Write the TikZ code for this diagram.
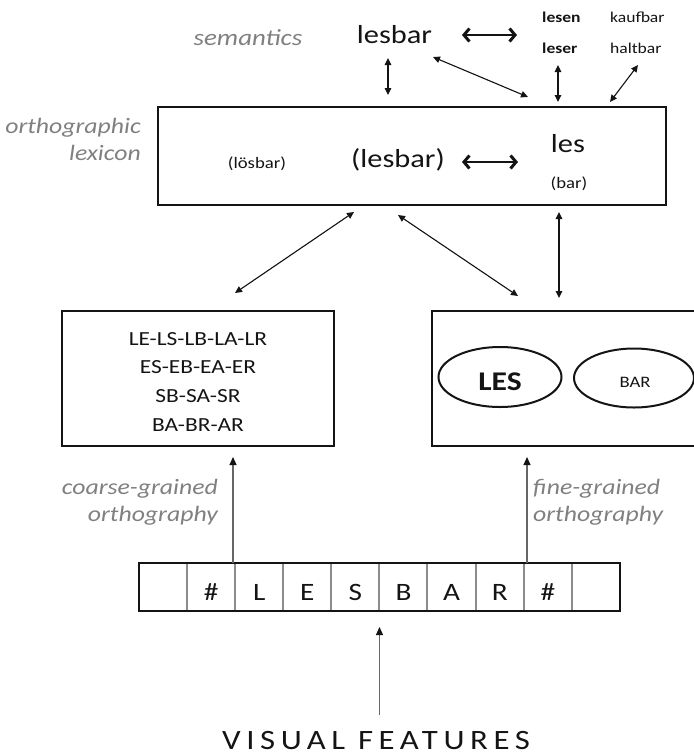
\documentclass[tikz,border=0pt]{standalone}
\usepackage{fontspec}
\setmainfont{Carlito}[FakeStretch=1.17]
\newfontfamily\vfont{Carlito}[FakeStretch=1.17,LetterSpace=20]
\usetikzlibrary{arrows.meta,shapes.geometric}
\definecolor{lblgray}{RGB}{128,128,128}
\definecolor{ink}{RGB}{20,20,20}
\definecolor{cellgray}{RGB}{140,140,140}
\newcommand{\fsz}[1]{\fontsize{#1pt}{#1pt}\selectfont}
\begin{document}
\begin{tikzpicture}[x=1pt,y=-1pt,
  txt/.style={inner sep=0pt, text=ink},
  lbl/.style={inner sep=0pt, text=lblgray, font=\fsz{22}\itshape},
  boxline/.style={draw=ink, line width=2.2pt},
  dbl/.style={{Triangle[length=7pt,width=6.5pt]}-{Triangle[length=7pt,width=6.5pt]}, line width=1.1pt, draw=ink, fill=ink},
  chev/.style={{Straight Barb[length=5.5pt,width=13pt,line width=3pt]}-{Straight Barb[length=5.5pt,width=13pt,line width=3pt]}, line width=1.2pt, draw=ink},
  uparr/.style={-{Triangle[length=8pt,width=7pt,color=ink]}, line width=1.1pt, draw=black!60},
  cell/.style={minimum width=48.1pt, minimum height=48pt, inner sep=0pt},
  ell/.style={ellipse, draw=ink, line width=2pt, inner sep=0pt}
]
\useasboundingbox (0,0) rectangle (694,756);

% semantics layer
\node[lbl, font=\fsz{23}\itshape, anchor=base] (sem) at (248,45) {semantics};
\node[txt, font=\fsz{26}, anchor=base] (lesbarA) at (394.5,43) {lesbar};
\node[txt, font=\fsz{15}\bfseries, anchor=base west] (lesen) at (542,22) {lesen};
\node[txt, font=\fsz{15}, anchor=base west] (kaufbar) at (610,22) {kaufbar};
\node[txt, font=\fsz{15}\bfseries, anchor=base west] (leser) at (542,53) {leser};
\node[txt, font=\fsz{15}, anchor=base west] (haltbar) at (610,53) {haltbar};

% orthographic lexicon
\node[minimum width=508pt, minimum height=98pt, inner sep=0pt, boxline] (lex) at (412,156) {};
\node[lbl, anchor=base east] (orth1) at (141,133) {orthographic};
\node[lbl, anchor=base east] (orth2) at (141,160) {lexicon};
\node[txt, font=\fsz{16}, anchor=base] (losbar) at (257,168) {(lösbar)};
\node[txt, font=\fsz{26}, anchor=base] (lesbarB) at (398,167) {(lesbar)};
\node[txt, font=\fsz{26}, anchor=base] (les) at (568,152) {les};
\node[txt, font=\fsz{16}, anchor=base] (bar) at (569,188) {(bar)};

% coarse-grained box
\node[minimum width=272pt, minimum height=135pt, inner sep=0pt, draw=ink, line width=2pt] (cg) at (198,378.5) {};
\node[txt, font=\fsz{20}, anchor=base] (cg1) at (198,345) {LE-LS-LB-LA-LR};
\node[txt, font=\fsz{20}, anchor=base] (cg2) at (198,373) {ES-EB-EA-ER};
\node[txt, font=\fsz{20}, anchor=base] (cg3) at (198,402) {SB-SA-SR};
\node[txt, font=\fsz{20}, anchor=base] (cg4) at (198,431) {BA-BR-AR};

% fine-grained box (cut at right edge)
\node[minimum width=262pt, minimum height=135pt, inner sep=0pt, anchor=north west] (fg) at (432,311) {};
\draw[draw=ink, line width=2pt] (fg.north east) -- (fg.north west) -- (fg.south west) -- (fg.south east);
\node[ell, minimum width=123pt, minimum height=60pt] (LES) at (500,377) {};
\node[txt, font=\fsz{27}\bfseries, anchor=base] (LEStxt) at (500,390) {LES};
\node[ell, minimum width=120pt, minimum height=59pt] (BAR) at (634,378) {};
\node[txt, font=\fsz{16}, anchor=base] (BARtxt) at (635,387) {BAR};

% labels of the two routes
\node[lbl, anchor=base east] (coarse1) at (218,494) {coarse-grained};
\node[lbl, anchor=base east] (coarse2) at (218,521) {orthography};
\node[lbl, anchor=base west] (fine1) at (533,494) {fine-grained};
\node[lbl, anchor=base west] (fine2) at (533,521) {orthography};

% letter row
\foreach \i/\t in {1/{},2/\#,3/L,4/E,5/S,6/B,7/A,8/R,9/\#,10/{}} {
  \node[cell] (c\i) at ({139+48.1*(\i-0.5)},587) {};
  \node[txt, font=\fsz{25}, anchor=base] (t\i) at ({139+48.1*(\i-0.5)},600) {\t};
}
\foreach \i in {2,...,10} \draw[draw=cellgray, line width=2pt] (c\i.north west) -- (c\i.south west);
\draw[draw=ink, line width=2.5pt] (c1.north west) rectangle (c10.south east);

\node[txt, font=\vfont\fsz{28}, anchor=base west] (vf) at (222,749) {VISUAL FEATURES};

% coordinates for connectors
\coordinate (sl) at (462,35); \coordinate (sr) at (517,35);
\coordinate (ll) at (462,162); \coordinate (lr) at (518,162);
\coordinate (v1a) at (388,58); \coordinate (v1b) at (388,95);
\coordinate (d1a) at (433,57); \coordinate (d1b) at (528,97);
\coordinate (v2a) at (558,65); \coordinate (v2b) at (558,102);
\coordinate (d2a) at (638,65); \coordinate (d2b) at (610,102);
\coordinate (aA) at (354,212); \coordinate (aAb) at (235,293);
\coordinate (aB) at (398,215); \coordinate (aBb) at (518,296);
\coordinate (aC) at (559,212); \coordinate (aCb) at (559,298);
\coordinate (cgup) at (233,457); \coordinate (fgup) at (527,457);
\coordinate (vftop) at (379.5,627); \coordinate (vfbot) at (379.5,715);
\coordinate (rowcg) at (233,563); \coordinate (rowfg) at (527,563);

\draw[chev] (sl) -- (sr);
\draw[chev] (ll) -- (lr);
\draw[dbl] (v1a) -- (v1b);
\draw[dbl] (d1a) -- (d1b);
\draw[dbl] (v2a) -- (v2b);
\draw[dbl] (d2a) -- (d2b);
\draw[dbl] (aA) -- (aAb);
\draw[dbl] (aB) -- (aBb);
\draw[dbl] (aC) -- (aCb);
\draw[uparr] (rowcg) -- (cgup);
\draw[uparr] (rowfg) -- (fgup);
\draw[uparr] (vfbot) -- (vftop);
\end{tikzpicture}
\end{document}
